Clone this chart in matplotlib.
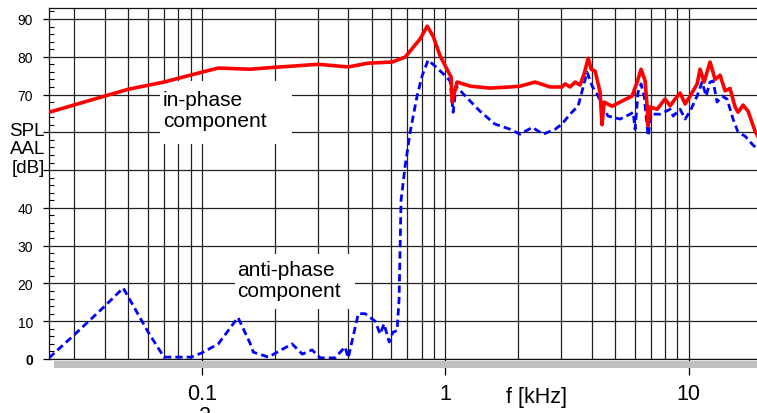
import matplotlib
matplotlib.use("Agg")
import matplotlib.pyplot as plt
from matplotlib.patches import Rectangle
from matplotlib.ticker import MultipleLocator, NullFormatter

plt.rcParams['font.family'] = ['Liberation Sans', 'DejaVu Sans']

# in-phase component (red), f in kHz, level in dB
red_f = [0.0236, 0.04, 0.05, 0.07, 0.1, 0.117, 0.158, 0.2, 0.301, 0.4, 0.483, 0.606,
         0.685, 0.789, 0.844, 0.893, 0.954, 1.058, 1.068, 1.12, 1.27, 1.53, 1.85, 2.03,
         2.34, 2.70, 3.02, 3.11, 3.26, 3.42, 3.58, 3.72, 3.87, 3.98, 4.13, 4.33, 4.41,
         4.50, 4.85, 5.23, 5.86, 6.15, 6.38, 6.63, 6.76, 6.82, 6.95, 7.43, 8.0, 8.4,
         8.8, 9.23, 9.68, 10.15, 10.84, 11.15, 11.58, 12.25, 12.85, 13.47, 14.12, 14.8,
         15.52, 15.97, 16.74, 17.55, 18.75, 20.0]
red_db = [65.3, 69.6, 71.4, 73.3, 75.9, 77.0, 76.7, 77.2, 78.0, 77.3, 78.3, 78.6,
          79.9, 84.7, 88.1, 85.4, 80.2, 74.6, 68.0, 73.3, 72.2, 71.7, 72.0, 72.2,
          73.3, 72.0, 72.0, 72.8, 72.0, 73.3, 72.5, 75.4, 79.6, 76.7, 76.2, 70.6, 62.0,
          68.0, 66.9, 68.0, 69.6, 73.3, 76.7, 73.6, 66.6, 61.7, 66.7, 66.1, 68.8, 67.0,
          68.8, 70.4, 67.5, 69.6, 72.8, 76.7, 73.3, 78.6, 74.0, 75.1, 71.0, 71.6,
          66.7, 65.3, 67.2, 65.6, 60.3, 57.0]

# anti-phase component (blue dashed)
blue_f = [0.0236, 0.0302, 0.04, 0.0476, 0.0603, 0.07, 0.08, 0.0906, 0.1, 0.117, 0.141,
          0.158, 0.163, 0.188, 0.235, 0.259, 0.284, 0.307, 0.353, 0.388, 0.4, 0.44,
          0.469, 0.516, 0.541, 0.561, 0.589, 0.611, 0.635, 0.647, 0.659, 0.685, 0.718,
          0.767, 0.805, 0.851, 0.91, 1.0, 1.048, 1.079, 1.11, 1.21, 1.39, 1.60, 1.85,
          2.03, 2.28, 2.53, 2.83, 3.02, 3.26, 3.52, 3.69, 3.83, 4.02, 4.25, 4.41, 4.67,
          5.23, 5.75, 5.92, 6.03, 6.20, 6.38, 6.57, 6.82, 7.02, 7.64, 8.40, 8.64, 9.23,
          9.68, 10.15, 10.84, 11.36, 11.80, 12.25, 12.61, 13.09, 13.73, 14.39, 15.23,
          15.97, 17.06, 18.23, 19.1]
blue_db = [0.3, 6.6, 14.0, 18.8, 7.1, 0.5, 0.5, 0.5, 1.6, 4.0, 11.0,
           4.2, 1.8, 0.5, 4.0, 1.3, 2.4, 0.3, 0.3, 3.2, 0.3, 12.0,
           12.0, 10.0, 6.6, 9.3, 4.5, 7.1, 7.5, 15.9, 42.0, 51.0, 60.0,
           69.6, 75.0, 79.1, 77.5, 75.0, 73.6, 65.3, 72.2, 69.6, 65.6, 62.2, 60.8,
           59.5, 61.3, 59.5, 60.8, 62.2, 64.8, 67.0, 72.0, 75.9, 72.2, 69.6, 67.0, 64.3,
           63.5, 64.8, 65.3, 60.8, 70.6, 72.8, 69.6, 59.0, 64.8, 64.8, 66.1, 64.3, 66.1,
           63.5, 65.6, 69.6, 73.3, 69.6, 73.3, 73.6, 68.0, 69.6, 68.8, 63.5,
           60.0, 59.0, 56.9, 55.6]

x_ticks = [0.1, 1, 10]
x_tick_labels = ['0.1', '1', '10']
y_ticks = [0, 10, 20, 30, 40, 50, 60, 70, 80, 90]
y_tick_labels = ['0', '10', '20', '30', '40', '', '', '70', '80', '90']

W, H = 757, 414
fig = plt.figure(figsize=(W / 100, H / 100), dpi=100)
fig.patch.set_facecolor('white')
ax = fig.add_axes([49 / W, (H - 360) / H, (W - 49) / W, 351 / H])

ax.set_xscale('log')
ax.set_xlim(0.0236, 19.1)
ax.set_ylim(0, 92.9)

ax.set_axisbelow(True)
ax.grid(which='both', axis='x', color='#222222', linewidth=0.9)
ax.grid(which='major', axis='y', color='#222222', linewidth=0.9)

ax.plot(blue_f, blue_db, color='#0000ff', linewidth=2.0, linestyle=(0, (2.6, 1.5)), zorder=3)
ax.plot(red_f, red_db, color='#ff0000', linewidth=2.6, zorder=4)

ax.set_xticks(x_ticks)
ax.set_xticklabels(x_tick_labels, fontsize=15.5)
ax.xaxis.set_minor_formatter(NullFormatter())
ax.tick_params(axis='x', which='major', direction='out', length=11.5, width=0.9, pad=6)
ax.tick_params(axis='x', which='minor', length=0)

ax.set_yticks(y_ticks)
ax.set_yticklabels(y_tick_labels, fontsize=10)
ax.get_yticklabels()[0].set_fontweight('bold')
ax.yaxis.set_minor_locator(MultipleLocator(2))
ax.tick_params(axis='y', which='major', direction='out', length=4.5, width=0.9, pad=7)
ax.tick_params(axis='y', which='minor', direction='in', length=3.6, width=0.8)

ax.spines['right'].set_visible(False)
for s in ['left', 'bottom', 'top']:
    ax.spines[s].set_linewidth(0.9)
    ax.spines[s].set_color('#111111')

# grey shadow bar under the x axis
ax.add_patch(Rectangle((54 / W, (H - 368.5) / H), 1, 6.8 / H, transform=fig.transFigure,
                       facecolor='#c0c0c0', edgecolor='none', clip_on=False, zorder=0.6))

# white boxes behind the annotations
ax.add_patch(Rectangle((160 / W, (H - 145) / H), 132 / W, 63 / H, transform=fig.transFigure,
                       facecolor='white', edgecolor='none', zorder=1.5))
ax.add_patch(Rectangle((235 / W, (H - 310) / H), 120 / W, 55 / H, transform=fig.transFigure,
                       facecolor='white', edgecolor='none', zorder=1.5))

fig.text(163 / W, (H - 111) / H, 'in-phase\ncomponent', fontsize=15, ha='left',
         va='center', linespacing=1.15, zorder=5)
fig.text(237 / W, (H - 281) / H, 'anti-phase\ncomponent', fontsize=15, ha='left',
         va='center', linespacing=1.15, zorder=5)

fig.text(45 / W, (H - 150) / H, 'SPL\nAAL\n[dB]', fontsize=13.5, ha='right', va='center',
         multialignment='right', linespacing=1.1)

fig.text(537 / W, (H - 398) / H, 'f [kHz]', fontsize=15.5, ha='center', va='center')
# partly visible label cut by the lower edge, as in the reference
fig.text(205 / W, (H - 406) / H, '2', fontsize=15.5, ha='center', va='top')

fig.savefig('out.png', dpi=100, facecolor='white')
